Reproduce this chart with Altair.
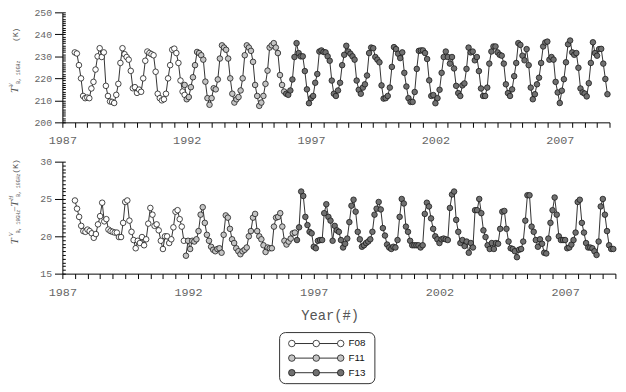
import altair as alt
import pandas as pd

SATS = ["F08", "F11", "F13"]
FILLS = ["#ffffff", "#c4c4c4", "#707070"]

# ---- Top panel: TB V-pol 19 GHz (K), monthly ----
TB_F08_START = (1987, 7)
TB_F08 = [231.8, 231.3, 226, 220, 212, 211,
          211.3, 211, 215.4, 218.4, 224, 230, 233.7, 229.7, 231.8, 216.6, 212, 209.5,
          209.3, 208.8, 212.5, 217.5, 227, 233.7, 231, 229.7, 228.5, 223.4, 215.5, 216,
          213.4, 214.9, 213.9, 220, 228, 232.2, 231.5, 231, 230.5, 223, 213, 211,
          210, 210.5, 213, 220, 226, 233, 233.5, 231.5, 227, 219, 214, 212.5]
TB_F11_START = (1991, 12)
TB_F11 = [217,
          210.5, 211.5, 216, 220.5, 226, 232, 231.5, 230.5, 228.5, 218.5, 211, 208,
          211, 215.5, 215, 219.5, 229, 235, 234, 233, 229, 220, 213, 209,
          210.5, 211.5, 214.5, 220, 230.5, 235, 234, 232.5, 227.5, 217, 212, 207.5,
          209, 212, 217.5, 223.5, 234, 235, 236, 234, 231.5, 221.5, 217, 214]
TB_F13_START = (1996, 1)
TB_F13 = [213, 212.5, 214.5, 219.5, 229.7, 236, 231.5, 230, 230, 223.3, 215, 208.7,
          211, 212, 218, 222, 232.2, 232.7, 232, 231.8, 230, 228, 219, 213,
          212, 214.5, 218, 226, 230.7, 234.8, 232.2, 231.2, 230, 228.5, 219, 214.8,
          213, 215.8, 217.3, 221.3, 231.5, 234, 233.7, 229.7, 228.5, 227.3, 216.8, 210.8,
          211, 212, 215.8, 225.2, 234.2, 233.3, 231.2, 229.2, 231.8, 222.5, 216.3, 211,
          209.3, 209.3, 213.8, 224.3, 232.5, 232.7, 232.7, 231.5, 228.8, 219.1, 212, 212.4,
          208.7, 211, 214.8, 222.5, 229.7, 232.2, 229.7, 226.7, 229.7, 224.5, 216.6, 213.3,
          212, 216.8, 217.7, 224.3, 234, 231.8, 232.2, 228.2, 229.7, 223.3, 215.4, 212,
          212, 215.8, 226.7, 232.2, 234.5, 234.5, 231.8, 230.7, 230.3, 226.7, 217.3, 213.3,
          212, 215, 221, 227, 236, 235.2, 230.3, 228.2, 233.3, 226, 215.8, 210.5,
          212.8, 217.3, 220.3, 227, 234.5, 236.3, 236.7, 228.5, 229.7, 228.5, 218.4, 213.6,
          208.8, 214.4, 219.6, 227.3, 235.5, 237.2, 231.8, 230.7, 231.5, 224.8, 215.4, 213.6,
          213.1, 211.8, 217.8, 227, 236.4, 231.5, 230.3, 233.3, 233.4, 226.7, 219.7, 212.8]

# ---- Bottom panel: TB V - TB H at 19 GHz (K), monthly ----
PD_F08_START = (1987, 7)
PD_F08 = [24.8, 23.7, 22.6, 21.4, 20.7, 20.6,
          20.9, 20.7, 20.4, 19.8, 20.3, 21.6, 22.7, 24.5, 22.0, 22.3, 20.9, 20.7,
          20.6, 20.5, 20.5, 19.9, 19.9, 21.8, 24.6, 24.8, 22.1, 20.6, 19.5, 18.4,
          19.4, 19.1, 19.9, 18.8, 19.6, 21.7, 23.8, 22.9, 21.4, 21.6, 20.8, 19.4,
          18.3, 20.0, 20.0, 19.1, 19.6, 21.2, 23.3, 23.5, 22.3, 21.3, 19.4]
PD_F11_START = (1991, 12)
PD_F11 = [17.4, 19.4, 18.3, 19.4, 19.3, 19.6, 20.7, 22.9, 23.9, 21.8, 20.2, 19.4,
          18.6, 18.2, 18.0, 18.3, 18.4, 17.8, 20.2, 22.8, 22.5, 21.0, 19.6, 19.1,
          18.4, 18.0, 17.6, 18.0, 18.2, 18.5, 20.0, 20.7, 22.5, 23.0, 20.7, 20.0,
          19.6, 18.8, 17.9, 18.5, 18.4, 18.4, 21.3, 22.5, 22.6, 23.1, 21.3, 19.4,
          18.9, 19.3, 19.7, 20.4, 20.5]
PD_F13_START = (1996, 5)
PD_F13 = [19.5, 21.2, 26.0, 25.4, 22.6, 21.5, 20.6, 20.4,
          18.6, 18.4, 19.4, 19.5, 19.5, 23.1, 24.3, 22.6, 22.1, 19.4, 21.4, 20.8,
          20.6, 19.5, 18.5, 19.0, 19.7, 21.9, 24.1, 24.9, 23.3, 20.6, 19.6, 18.6,
          18.8, 19.1, 19.3, 19.6, 20.6, 22.9, 23.7, 24.6, 23.6, 21.1, 20.1, 18.9,
          18.5, 18.3, 18.6, 18.5, 19.5, 22.6, 25.0, 24.4, 21.3, 20.6, 19.4, 18.8,
          18.8, 18.8, 18.8, 18.5, 18.8, 23.0, 24.5, 24.0, 22.4, 21.0, 20.0, 19.6,
          19.1, 19.6, 19.7, 19.6, 19.5, 23.8, 25.6, 26.0, 22.2, 20.6, 19.1, 19.5,
          18.7, 19.3, 17.8, 19.1, 18.5, 23.5, 23.5, 25.0, 23.1, 20.8, 19.9, 18.8,
          18.3, 19.1, 18.3, 19.1, 19.0, 21.0, 23.3, 23.4, 21.0, 19.3, 18.4, 18.3,
          18.0, 17.2, 18.2, 18.3, 19.3, 22.1, 25.5, 25.5, 21.3, 20.6, 19.5, 18.6,
          19.6, 19.0, 17.8, 17.7, 19.7, 21.8, 23.5, 25.2, 22.9, 20.0, 19.5, 19.5,
          19.5, 18.4, 18.5, 18.9, 19.5, 20.5, 24.6, 24.9, 21.8, 20.5, 19.1, 18.5,
          18.5, 18.4, 18.0, 17.5, 19.3, 24.0, 25.0, 22.9, 20.7, 18.8, 18.3, 18.3]

X_TICKS = [1987 + 0.5 * k for k in range(45)]
TOP_TICKS = [200, 210, 220, 230, 240, 250]
TOP_MINOR = list(range(200, 251))
BOT_TICKS = [15, 20, 25, 30]
BOT_MINOR = [15 + 0.5 * k for k in range(31)]

TOP_TITLE = ["T", "V", "B, 19GHz", "(K)"]
BOT_TITLE = ["T", "V", "B, 19GHz", "\u2212", "T", "H", "B, 19GHz", "(K)"]
X_TITLE = "Year(#)"


def frame(sat, start, values):
    y0, m0 = start
    return [{"sat": sat, "t": y0 + (m0 - 1 + i) / 12.0, "v": v} for i, v in enumerate(values)]


top_df = pd.DataFrame(frame("F08", TB_F08_START, TB_F08) + frame("F11", TB_F11_START, TB_F11)
                      + frame("F13", TB_F13_START, TB_F13))
bot_df = pd.DataFrame(frame("F08", PD_F08_START, PD_F08) + frame("F11", PD_F11_START, PD_F11)
                      + frame("F13", PD_F13_START, PD_F13))

LABEL_COLOR = "#666666"
MONO = "Liberation Mono"


def x_axis(title=None):
    kw = dict(values=X_TICKS, labelExpr="datum.value % 5 == 2 ? format(datum.value, 'd') : ''",
              tickSize=5, labelFont=MONO, labelFontSize=12, labelColor=LABEL_COLOR,
              labelFlush=False, labelOverlap=False, labelPadding=8, grid=False,
              domainColor="#000000", tickColor="#000000", orient="bottom")
    if title:
        kw.update(title=title, titleFont=MONO, titleFontSize=14, titleFontWeight="normal",
                  titleColor="#555555", titlePadding=12, titleX=272, titleAlign="center")
    else:
        kw.update(title=None)
    return alt.Axis(**kw)


def major_y(values):
    return alt.Axis(values=values, tickSize=8, labelFont=MONO, labelFontSize=10, orient="left",
                    labelColor=LABEL_COLOR, labelPadding=3, grid=False, title=None,
                    domainColor="#000000", tickColor="#000000")


def minor_y(values):
    return alt.Axis(values=values, tickSize=3, offset=-3, labels=False, domain=False, orient="left",
                    grid=False, title=None, tickColor="#000000")


def title_layer(text, x, y, font, size, italic=False, color="#555555"):
    return alt.Chart(pd.DataFrame({"s": [text]})).mark_text(
        angle=270, align="left", baseline="alphabetic", font=font, fontSize=size,
        fontStyle="italic" if italic else "normal", color=color
    ).encode(text="s:N", x=alt.value(x), y=alt.value(y))


def panel(df, domain, ticks, minor, width, height, title_layers, xtitle=None):
    xs = alt.X("t:Q", scale=alt.Scale(domain=[1987, 2009], nice=False), axis=x_axis(xtitle))
    base = alt.Chart(df)
    lines = base.mark_line(color="#1a1a1a", strokeWidth=0.9).encode(
        x=xs,
        y=alt.Y("v:Q", scale=alt.Scale(domain=domain, nice=False, zero=False), axis=minor_y(minor)),
        detail="sat:N",
    )
    pts = base.mark_point(filled=True, shape="circle", size=32, opacity=1,
                          stroke="#1a1a1a", strokeWidth=0.8).encode(
        x=xs,
        y=alt.Y("v:Q", scale=alt.Scale(domain=domain, nice=False, zero=False), axis=major_y(ticks)),
        fill=alt.Fill("sat:N", scale=alt.Scale(domain=SATS, range=FILLS), legend=None),
    )
    return alt.layer(lines, pts, *title_layers).resolve_axis(y="independent").properties(
        width=width, height=height)


top_titles = [
    title_layer(TOP_TITLE[0], -45, 82, "Liberation Serif", 11, italic=True),
    title_layer(TOP_TITLE[1], -50, 76, "Liberation Serif", 6, italic=True),
    title_layer(TOP_TITLE[2], -43, 73, MONO, 5),
    title_layer(TOP_TITLE[3], -45, 30, MONO, 8),
]
bot_titles = [
    title_layer(BOT_TITLE[0], -45, 84, "Liberation Serif", 11, italic=True),
    title_layer(BOT_TITLE[1], -50, 76, "Liberation Serif", 6, italic=True),
    title_layer(BOT_TITLE[2], -43, 73, MONO, 5),
    title_layer(BOT_TITLE[3], -45, 51, "Liberation Serif", 10),
    title_layer(BOT_TITLE[4], -45, 46, "Liberation Serif", 11, italic=True),
    title_layer(BOT_TITLE[5], -50, 39, "Liberation Serif", 6, italic=True),
    title_layer(BOT_TITLE[6], -43, 36, MONO, 5),
    title_layer(BOT_TITLE[7], -45, 12, MONO, 8),
]

top = panel(top_df, [200, 250], TOP_TICKS, TOP_MINOR, 557, 112, top_titles)
bottom = panel(bot_df, [15, 30], BOT_TICKS, BOT_MINOR, 563, 114, bot_titles, X_TITLE)

# ---- legend built from the series names ----
LEG_W, LEG_H, LEG_EXTRA = 97, 52, 26
leg_df = pd.DataFrame([{"sat": s, "pos": p} for s in SATS for p in range(3)])
lx = alt.X("pos:Q", scale=alt.Scale(domain=[-0.5, -0.5 + 3.9 * (LEG_W + LEG_EXTRA) / LEG_W],
                                    nice=False, zero=False), axis=None)
ly = alt.Y("sat:N", scale=alt.Scale(domain=SATS, padding=0.75), axis=None)
lbase = alt.Chart(leg_df)
frame_box = alt.Chart(pd.DataFrame({"k": [0]})).mark_rect(
    fill="white", stroke="#333333", strokeWidth=1, cornerRadius=6
).encode(x=alt.value(0), x2=alt.value(LEG_W), y=alt.value(0), y2=alt.value(LEG_H))
leg_lines = lbase.mark_line(color="#1a1a1a", strokeWidth=0.9).encode(x=lx, y=ly, detail="sat:N")
leg_pts = lbase.mark_point(filled=True, shape="circle", size=44, opacity=1,
                           stroke="#1a1a1a", strokeWidth=0.8).encode(
    x=lx, y=ly, fill=alt.Fill("sat:N", scale=alt.Scale(domain=SATS, range=FILLS), legend=None))
leg_text = lbase.transform_filter("datum.pos == 2").mark_text(
    align="left", baseline="middle", dx=8, font="Liberation Sans", fontSize=10, color="#111111"
).encode(x=lx, y=ly, text="sat:N")
legend = alt.layer(frame_box, leg_lines, leg_pts, leg_text).properties(
    width=LEG_W + LEG_EXTRA, height=LEG_H)

panels = alt.vconcat(top, bottom, spacing=11)
chart = alt.vconcat(panels, legend, spacing=9, center=True).properties(
    padding={"left": 0, "top": -4, "right": 0, "bottom": 0}
).configure_view(stroke=None)

chart.save("out.html", embed_options={"renderer": "svg", "actions": False})
